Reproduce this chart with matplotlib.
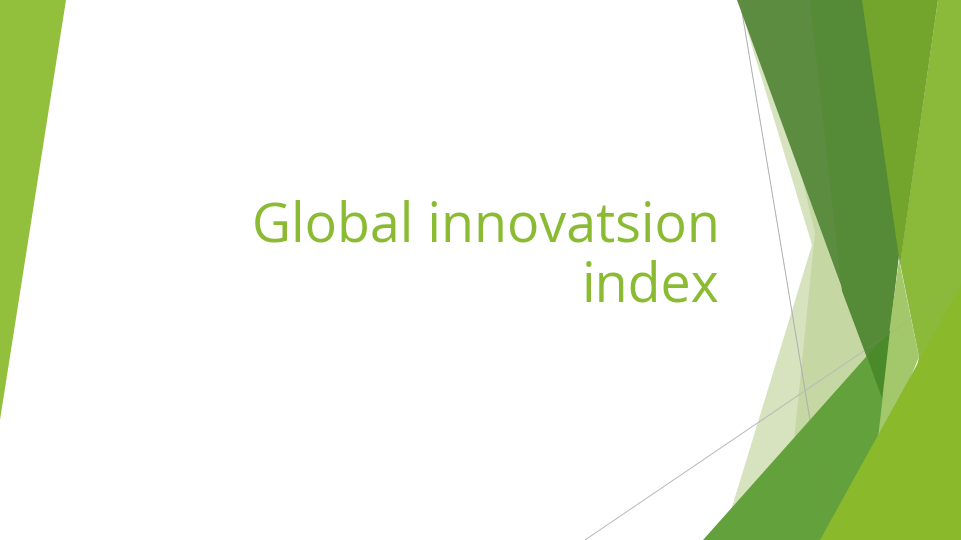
import matplotlib
matplotlib.use("Agg")
import matplotlib.pyplot as plt
from matplotlib.patches import Polygon

# Slide content
title_lines = ["Global innovatsion", "index"]

# Decorative facets (pixel coordinates of the 961x540 slide, y downward)
left_facet = [(0, 0), (66, 0), (0, 420)]
pale_a = [(738, 0), (812, 245), (722, 540), (880, 540), (880, 395)]
pale_b = [(760, 0), (815, 233), (784, 540), (870, 540), (880, 395)]
dark_a = [(737, 0), (929, 0), (882, 398)]
dark_b = [(810, 0), (929, 0), (882, 398), (842, 291)]
olive = [(862, 0), (938, 0), (900, 265)]
right_strip = [(938, 0), (961, 0), (961, 540), (880, 540), (919, 357), (900, 263)]
pale_light = [(899, 260), (919, 357), (878, 455), (881, 392)]
mid_band = [(703, 540), (867, 540), (890, 330)]
yellow = [(820, 540), (961, 540), (961, 285)]
line_a = [(740, 0), (830, 540)]
line_b = [(585, 540), (961, 285)]

fig = plt.figure(figsize=(9.61, 5.40), dpi=100)
ax = fig.add_axes([0, 0, 1, 1])
ax.set_xlim(0, 961)
ax.set_ylim(540, 0)
ax.axis("off")
fig.patch.set_facecolor("white")


def poly(pts, color, alpha=1.0, z=1):
    p = Polygon(pts, closed=True, facecolor=color, edgecolor="none",
                alpha=alpha, zorder=z, antialiased=True)
    ax.add_patch(p)
    return p


poly(left_facet, "#93c03c", z=1)
poly(pale_a, "#9ebd66", alpha=0.42, z=2)
poly(pale_b, "#9ebd66", alpha=0.30, z=3)
ax.plot(*zip(*line_a), color="#b4b4b4", lw=0.7, zorder=4)
ax.plot(*zip(*line_b), color="#c2c2c2", lw=0.7, zorder=4)
d = poly(dark_a, "#5c8c40", z=5)
poly(dark_b, "#558a36", z=6)
poly(right_strip, "#8bb93a", z=7)
poly(pale_light, "#a3c76b", z=7)
poly(olive, "#73a42b", z=8)
poly(mid_band, "#62a13b", z=9)
ov = poly(mid_band, "#4b8a2b", z=10)
ov.set_clip_path(d)
poly(yellow, "#8aba2c", z=11)
ax.plot(*zip(*line_a), color="#9a9a9a", lw=0.6, alpha=0.15, zorder=12)
ax.plot(*zip(*line_b), color="#9a9a9a", lw=0.6, alpha=0.2, zorder=12)

fig.text(720 / 961, 1 - 241 / 540, title_lines[0], ha="right", va="baseline",
         fontsize=38.7, color="#8bbb33", family=["Open Sans", "DejaVu Sans"])
fig.text(720 / 961, 1 - 302 / 540, title_lines[1], ha="right", va="baseline",
         fontsize=38.7, color="#8bbb33", family=["Open Sans", "DejaVu Sans"])

fig.savefig("out.png", dpi=100, facecolor="white")
